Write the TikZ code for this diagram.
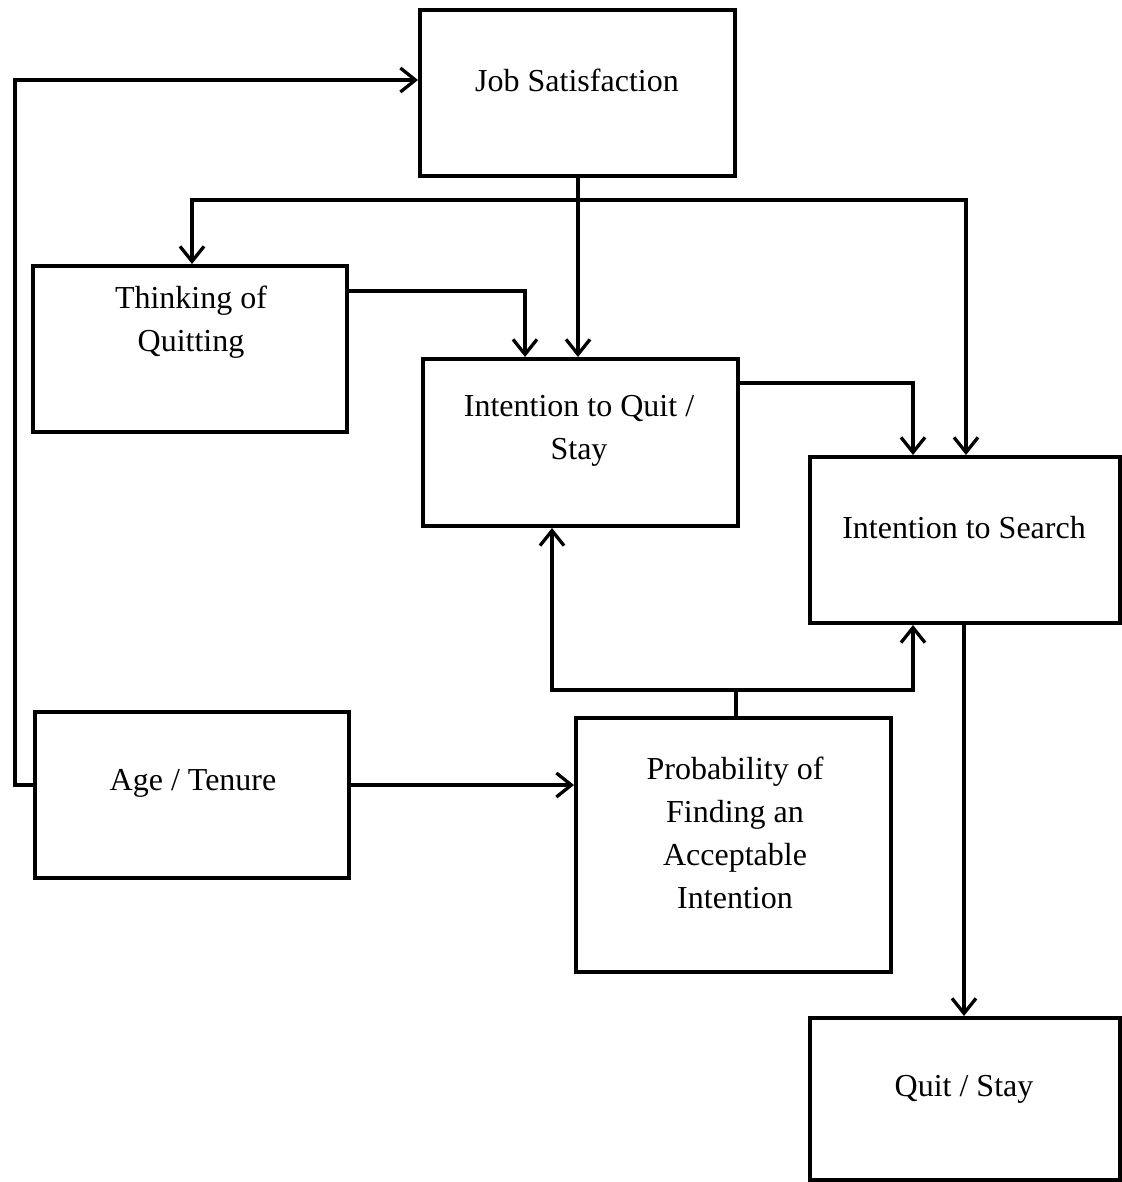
\documentclass[tikz,border=0pt]{standalone}
\usepackage{fontspec}
\setmainfont{Liberation Serif}
\usetikzlibrary{arrows.meta}
\begin{document}
\begin{tikzpicture}[x=1pt,y=-1pt,
  boxstyle/.style={draw,line width=4pt,rectangle,inner sep=0pt},
  lbl/.style={font=\fontsize{32}{43}\selectfont,align=center,inner sep=0pt},
  conn/.style={line width=3.3pt,-{Straight Barb[length=15pt,width=24pt,line width=3.3pt]}},
  plain/.style={line width=3.3pt}]
\useasboundingbox (0,0) rectangle (1121,1182);
% boxes
\node[boxstyle,minimum width=315pt,minimum height=166pt] (js) at (577.5,93) {};
\node[boxstyle,minimum width=314pt,minimum height=166pt] (tq) at (190,349) {};
\node[boxstyle,minimum width=315pt,minimum height=167pt] (iq) at (580.5,442.5) {};
\node[boxstyle,minimum width=310pt,minimum height=166pt] (is) at (965,540) {};
\node[boxstyle,minimum width=314pt,minimum height=166pt] (at) at (192,795) {};
\node[boxstyle,minimum width=315pt,minimum height=254pt] (pf) at (733.5,845) {};
\node[boxstyle,minimum width=310pt,minimum height=162pt] (qs) at (965,1099) {};
% labels
\node[lbl] (jsl) at (577,80) {Job Satisfaction};
\node[lbl] (tql) at (191,322) {Thinking of\\Quitting};
\node[lbl] (iql) at (579,431) {Intention to Quit /\\Stay};
\node[lbl] (isl) at (964,528) {Intention to Search};
\node[lbl] (atl) at (193,783) {Age / Tenure};
\node[lbl] (pfl) at (735,833) {Probability of\\Finding an\\Acceptable\\Intention};
\node[lbl] (qsl) at (964,1089) {Quit / Stay};
% junction coordinates
\coordinate (jsy) at (578,200);
\coordinate (pfy) at (736,690);
% connectors
\draw[conn] (at.west |- 0,785) -| (15,80) -- (js.west |- 0,80);
\draw[conn] (js.south -| 578,0) -- (iq.north -| 578,0);
\draw[conn] (jsy) -| (tq.north -| 192,0);
\draw[conn] (jsy) -| (is.north -| 966,0);
\draw[conn] (tq.east |- 0,291) -| (iq.north -| 525,0);
\draw[conn] (iq.east |- 0,383) -| (is.north -| 913,0);
\draw[plain] (pf.north -| 736,0) -- (pfy);
\draw[conn] (pfy) -| (iq.south -| 552,0);
\draw[conn] (pfy) -| (is.south -| 913,0);
\draw[conn] (at.east |- 0,785) -- (pf.west |- 0,785);
\draw[conn] (is.south -| 964,0) -- (qs.north -| 964,0);
\end{tikzpicture}
\end{document}
